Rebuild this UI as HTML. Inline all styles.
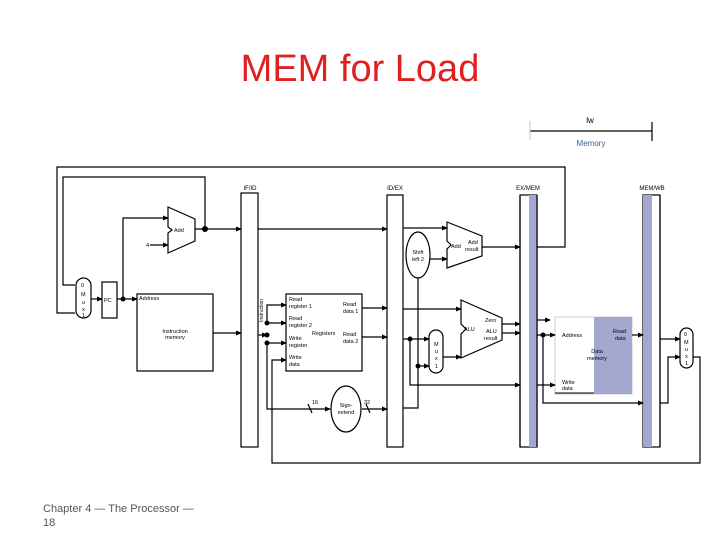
<!DOCTYPE html>
<html><head><meta charset="utf-8"><style>
html,body{margin:0;padding:0;background:#fff;}
svg{display:block}
text{font-family:"Liberation Sans",sans-serif;}
</style></head><body>
<svg width="720" height="540" viewBox="0 0 720 540" xmlns="http://www.w3.org/2000/svg">
<defs><marker id="a" markerWidth="6" markerHeight="6" refX="5" refY="3" orient="auto" markerUnits="userSpaceOnUse"><path d="M0,0.5 L6,3 L0,5.5z" fill="#000"/></marker></defs>
<text x="360" y="81" font-size="38" fill="#e02020" text-anchor="middle">MEM for Load</text>
<g stroke="#000" stroke-width="1.2" fill="none">
<line x1="530" y1="131" x2="652" y2="131"/>
<line x1="652" y1="122" x2="652" y2="141"/>
<line x1="530" y1="121" x2="530" y2="140" stroke="#ccc"/>
</g>
<text x="590" y="123" font-size="8" text-anchor="middle">lw</text>
<text x="591" y="146" font-size="8" fill="#3a5a9a" text-anchor="middle">Memory</text>

<g stroke="#000" stroke-width="1.2" fill="none">
<!-- outer loops -->
<polyline points="75,313 57,313 57,167 565,167 565,247 537,247"/>
<polyline points="75,285 63,285 63,177 205,177 205,229"/>
<!-- pipeline registers -->
<rect x="241" y="193" width="17" height="254" fill="#fff"/>
<rect x="387" y="195" width="16" height="252" fill="#fff"/>
<rect x="520" y="195" width="17" height="252" fill="#fff"/>
<rect x="643" y="195" width="17" height="252" fill="#fff"/>
</g>
<rect x="529" y="195" width="8" height="252" fill="#a4a8d0"/>
<rect x="643" y="195" width="9" height="252" fill="#a4a8d0"/>
<g stroke="#000" stroke-width="1.2" fill="none">
<line x1="537" y1="195" x2="537" y2="447"/><line x1="520" y1="195" x2="520" y2="447"/>
<line x1="660" y1="195" x2="660" y2="447"/>
</g>
<g font-size="6" text-anchor="middle"><text x="250" y="190">IF/ID</text><text x="395" y="190">ID/EX</text><text x="528" y="190">EX/MEM</text><text x="652" y="190">MEM/WB</text></g>

<g stroke="#000" stroke-width="1.2" fill="#fff">
<!-- mux1 -->
<rect x="76" y="278" width="15" height="40" rx="7.5"/>
<rect x="102" y="282" width="15" height="36"/>
<rect x="137" y="294" width="76" height="77"/>
<path d="M168,207 L195,219 L195,241 L168,253 L168,233 L172,230 L168,227 Z"/>
<rect x="286" y="294" width="76" height="77"/>
<ellipse cx="346" cy="409" rx="15" ry="23"/>
<path d="M447,222 L482,236 L482,256 L447,268 L447,249 L451,245 L447,241 Z"/>
<ellipse cx="418" cy="255" rx="12" ry="23"/>
<path d="M461,300 L502,318 L502,340 L461,358 L461,334 L466,329 L461,324 Z"/>
<rect x="429" y="330" width="14" height="43" rx="7"/>
<rect x="680" y="328" width="13" height="40" rx="6.5"/>
</g>
<rect x="555" y="317" width="77" height="77" fill="#fff" stroke="#ccc"/>
<rect x="594" y="317" width="38" height="77" fill="#a4a8d0"/>
<line x1="555" y1="393" x2="594" y2="393" stroke="#000" stroke-width="1"/>

<g stroke="#000" stroke-width="1.2" fill="none" marker-end="url(#a)">
<line x1="91" y1="299" x2="102" y2="299"/>
<line x1="117" y1="299" x2="137" y2="299"/>
<polyline points="123,299 123,218 168,218"/>
<line x1="150" y1="245" x2="168" y2="245"/>
<line x1="195" y1="229" x2="241" y2="229"/>
<line x1="213" y1="333" x2="241" y2="333"/>
<line x1="258" y1="229" x2="387" y2="229"/>
<polyline points="258,335 267,335"/>
<polyline points="267,323 267,305 286,305"/>
<line x1="267" y1="323" x2="286" y2="323"/>
<line x1="267" y1="343" x2="286" y2="343"/>
<polyline points="272,460 272,360 286,360"/>
<polyline points="267,343 267,409 330,409"/>
<line x1="362" y1="409" x2="387" y2="409"/>
<line x1="362" y1="308" x2="387" y2="308"/>
<line x1="362" y1="337" x2="387" y2="337"/>
<line x1="403" y1="228" x2="447" y2="228"/>
<line x1="430" y1="259" x2="447" y2="259"/>
<line x1="482" y1="247" x2="520" y2="247"/>
<line x1="403" y1="309" x2="461" y2="309"/>
<line x1="403" y1="339" x2="429" y2="339"/>
<line x1="418" y1="366" x2="429" y2="366"/>
<line x1="443" y1="357" x2="461" y2="357"/>
<polyline points="410,339 410,385 520,385"/>
<line x1="502" y1="324" x2="520" y2="324"/>
<line x1="502" y1="333" x2="520" y2="333"/>
<line x1="537" y1="320" x2="550" y2="320"/>
<line x1="537" y1="335" x2="555" y2="335"/>
<line x1="537" y1="385" x2="555" y2="385"/>
<polyline points="543,335 543,403 643,403"/>
<line x1="632" y1="335" x2="643" y2="335"/>
<line x1="660" y1="339" x2="680" y2="339"/>
<polyline points="660,403 668,403 668,357 680,357"/>
</g>
<g stroke="#000" stroke-width="1.2" fill="none">
<polyline points="418,278 418,408 403,408"/>
<polyline points="693,357 700,357 700,463 272,463 272,460"/>
<line x1="308" y1="404" x2="312" y2="413"/><line x1="366" y1="404" x2="370" y2="413"/>
</g>
<g fill="#000">
<circle cx="123" cy="299" r="2.5"/><circle cx="205" cy="229" r="3"/>
<circle cx="267" cy="323" r="2.5"/><circle cx="267" cy="335" r="2.5"/><circle cx="267" cy="343" r="2.5"/>
<circle cx="410" cy="339" r="2.5"/><circle cx="418" cy="366" r="2.5"/><circle cx="543" cy="335" r="2.5"/>
</g>
<g font-size="5.5">
<text x="81" y="287">0</text><text x="81" y="296">M</text><text x="82" y="304">u</text><text x="82" y="311">x</text><text x="82" y="317">1</text>
<text x="104" y="302">PC</text>
<text x="139" y="300">Address</text>
<text x="175" y="333" text-anchor="middle">Instruction</text><text x="175" y="339" text-anchor="middle">memory</text>
<text x="174" y="232">Add</text><text x="146" y="247">4</text>
<text x="289" y="301">Read</text><text x="289" y="308">register 1</text>
<text x="289" y="320">Read</text><text x="289" y="327">register 2</text>
<text x="289" y="340">Write</text><text x="289" y="347">register</text>
<text x="289" y="359">Write</text><text x="289" y="366">data</text>
<text x="312" y="335">Registers</text>
<text x="343" y="306">Read</text><text x="343" y="313">data 1</text>
<text x="343" y="336">Read</text><text x="343" y="343">data 2</text>
<text x="346" y="407" text-anchor="middle">Sign-</text><text x="346" y="414" text-anchor="middle">extend</text>
<text x="312" y="404">16</text><text x="364" y="404">32</text>
<text x="418" y="254" text-anchor="middle">Shift</text><text x="418" y="261" text-anchor="middle">left 2</text>
<text x="451" y="248">Add</text><text x="468" y="244">Add</text><text x="465" y="251">result</text>
<text x="464" y="331">ALU</text><text x="485" y="322">Zero</text><text x="486" y="333">ALU</text><text x="484" y="340">result</text>
<text x="434" y="346">M</text><text x="435" y="353">u</text><text x="435" y="360">x</text><text x="435" y="368">1</text>
<text x="562" y="337">Address</text><text x="613" y="333">Read</text><text x="615" y="340">data</text>
<text x="597" y="353" text-anchor="middle">Data</text><text x="597" y="360" text-anchor="middle">memory</text>
<text x="562" y="384">Write</text><text x="562" y="390">data</text>
<text x="684" y="336">0</text><text x="684" y="344">M</text><text x="685" y="351">u</text><text x="685" y="358">x</text><text x="685" y="365">1</text>
<text transform="translate(263,322) rotate(-90)" font-size="5">Instruction</text>
</g>
<text x="43" y="512" font-size="11" fill="#555">Chapter 4 — The Processor —</text>
<text x="43" y="526" font-size="11" fill="#555">18</text>
</svg>
</body></html>
